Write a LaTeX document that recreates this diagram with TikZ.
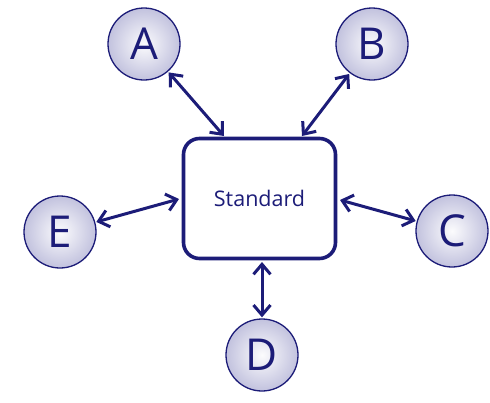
\documentclass[tikz,border=0pt]{standalone}
\usepackage{fontspec}
\setmainfont{Open Sans}
\usetikzlibrary{arrows.meta}
\definecolor{navy}{HTML}{1C1C78}
\definecolor{lav}{HTML}{C2C2DE}
\tikzset{
  hub/.style={draw=navy, line width=3.6pt, rounded corners=16pt, fill=white,
    minimum width=152pt, minimum height=120pt, text=navy, font=\fontsize{21.5}{24}\selectfont},
  party/.style={circle, draw=navy, line width=1.3pt, minimum size=72pt, inner sep=0pt,
    inner color=white!94!lav, outer color=lav, text=navy, font=\fontsize{44}{48}\selectfont},
  barb/.tip={Straight Barb[length=10pt,width=17pt]},
  link/.style={navy, line width=3pt, barb-barb, shorten <=1pt}
}
\begin{document}
\begin{tikzpicture}[x=1pt,y=-1pt]
\useasboundingbox (0,0) rectangle (490,402);
\node[hub] (s) at (259.5,198.5) {Standard};
\node[party] (a) at (144,44) {A};
\node[party] (b) at (372,44) {B};
\node[party] (c) at (452,231) {C};
\node[party] (d) at (262,355) {D};
\node[party] (e) at (60,232) {E};
\draw[link] (a) -- (224,136);
\draw[link] (b) -- (302,136);
\draw[link] (e) -- (179,199);
\draw[link] (c) -- (340,200);
\draw[link] (d) -- (262,262);
\end{tikzpicture}
\end{document}
